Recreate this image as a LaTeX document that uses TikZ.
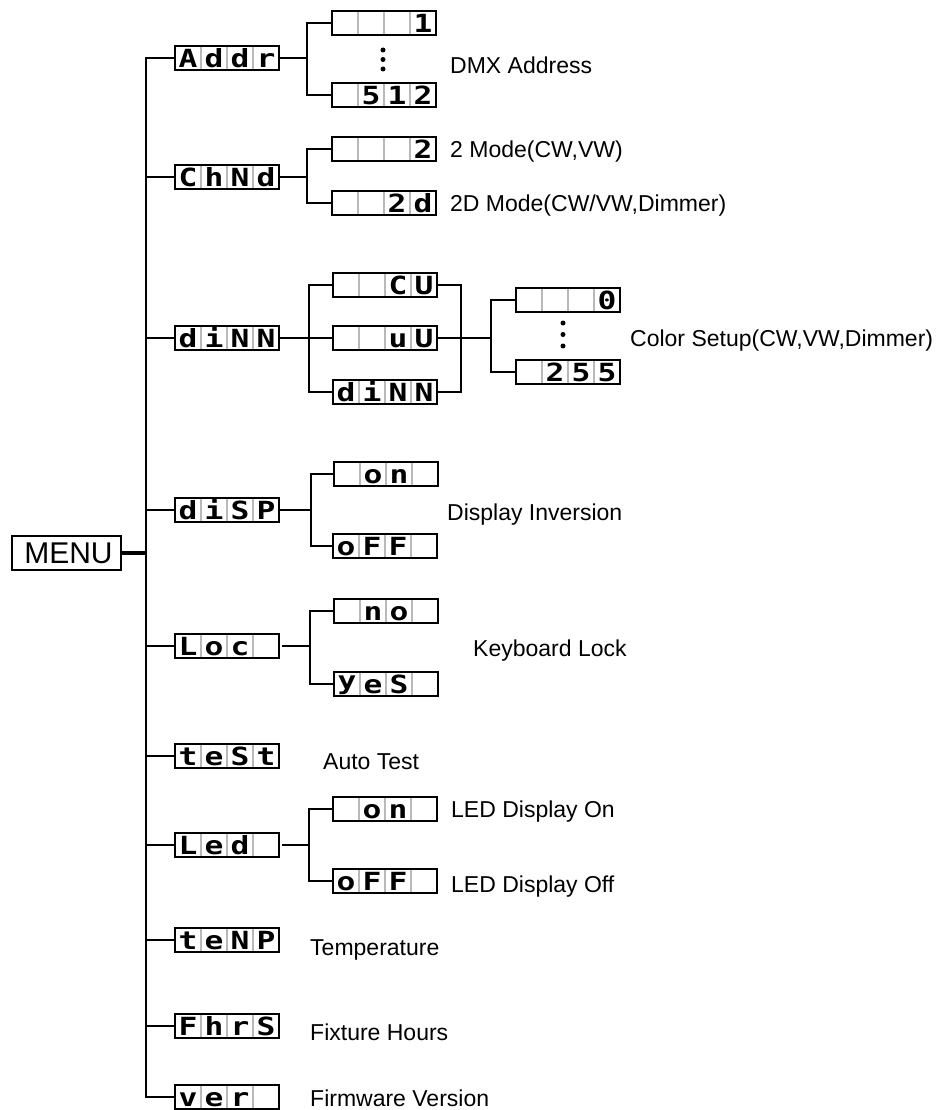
\documentclass[tikz,border=0pt]{standalone}
\usepackage{fontspec}
\setmainfont{Liberation Sans}
\newfontfamily\segfont{DejaVu Sans Mono}
\newcommand{\sg}[1]{\scalebox{1.25}[1]{#1}}
\newcommand{\segbox}[7]{%
  \node[dispbox] (#1) at (#2,#3) {};
  \foreach \k in {1,2,3}{\draw[divider] ([xshift=\k*26pt,yshift=-1pt]#1.north west) -- ([xshift=\k*26pt,yshift=1pt]#1.south west);}
  \node[dchar] (#1-a) at ([xshift=13pt]#1.west) {\sg{#4}};
  \node[dchar] (#1-b) at ([xshift=39pt]#1.west) {\sg{#5}};
  \node[dchar] (#1-c) at ([xshift=65pt]#1.west) {\sg{#6}};
  \node[dchar] (#1-d) at ([xshift=91pt]#1.west) {\sg{#7}};
}
\begin{document}
\begin{tikzpicture}[x=1pt,y=-1pt,
  line/.style={line width=2pt, black},
  dispbox/.style={draw, line width=2pt, minimum width=104pt, minimum height=24pt, inner sep=0pt, outer sep=0pt, fill=white},
  divider/.style={draw=gray!55, line width=1.4pt},
  dchar/.style={font=\segfont\bfseries\fontsize{25}{25}\selectfont, inner sep=0pt, text height=18.2pt, text depth=0pt},
  lbl/.style={font=\fontsize{23}{23}\selectfont, anchor=base west, inner sep=0pt},
  menubox/.style={draw, line width=1.5pt, minimum width=109pt, minimum height=34pt, inner sep=0pt, outer sep=0pt, font=\fontsize{30}{30}\selectfont}]
\useasboundingbox (0,0) rectangle (946,1110);

\node[menubox] (menu) at (66.5,553) {\hspace{4pt}MENU};

% level 1
\segbox{addr}{227}{58}{A}{d}{d}{r}
\segbox{chnd}{227}{177}{C}{h}{N}{d}
\segbox{dinn}{227}{338}{d}{i}{N}{N}
\segbox{disp}{227}{510}{d}{i}{S}{P}
\segbox{loc}{227}{646}{L}{o}{c}{}
\segbox{test}{227}{756}{t}{e}{S}{t}
\segbox{led}{227}{845}{L}{e}{d}{}
\segbox{temp}{227}{940}{t}{e}{N}{P}
\segbox{fhrs}{227}{1026}{F}{h}{r}{S}
\segbox{ver}{227}{1097}{v}{e}{r}{}

% level 2
\segbox{a1}{384}{23}{}{}{}{1}
\segbox{a512}{384}{95}{}{5}{1}{2}
\segbox{c2}{384}{149}{}{}{}{2}
\segbox{c2d}{384}{203}{}{}{2}{d}
\segbox{dcw}{385}{285}{}{}{C}{U}
\segbox{dvw}{385}{338}{}{}{u}{U}
\segbox{ddim}{385}{392}{d}{i}{N}{N}
\segbox{v0}{568}{300}{}{}{}{0}
\segbox{v255}{568}{372}{}{2}{5}{5}
\segbox{don}{386}{474}{}{o}{n}{}
\segbox{doff}{385}{546}{o}{F}{F}{}
\segbox{lno}{386}{611}{}{n}{o}{}
\segbox{lyes}{386}{684}{\raisebox{4pt}{y}}{e}{S}{}
\segbox{eon}{385}{809}{}{o}{n}{}
\segbox{eoff}{385}{881}{o}{F}{F}{}

% trunk
\coordinate (tk) at (146,553);
\draw[line] (addr.west) -| (tk) |- (ver.west);
\foreach \n in {chnd,dinn,disp,loc,test,led,temp,fhrs}{\draw[line] (\n.west) -- (\n.west -| tk);}
\draw[line width=3.5pt] (menu.east) -- (menu.east -| tk);

% Addr
\coordinate (ja) at (307,58);
\draw[line] (addr.east) -- (ja);
\draw[line] (a1.west) -| (ja) |- (a512.west);
% ChNd
\coordinate (jc) at (307,177);
\draw[line] (chnd.east) -- (jc);
\draw[line] (c2.west) -| (jc) |- (c2d.west);
% dinn
\coordinate (jd) at (309,338);
\draw[line] (dinn.east) -- (jd);
\draw[line] (dcw.west) -| (jd) |- (ddim.west);
\draw[line] (dvw.west) -- (dvw.west -| jd);
\coordinate (jr) at (461,338);
\draw[line] (dcw.east) -| (jr) |- (ddim.east);
\draw[line] (dvw.east) -- (jr);
\coordinate (jv) at (491,338);
\draw[line] (jr) -- (jv);
\draw[line] (v0.west) -| (jv) |- (v255.west);
% dISP
\coordinate (jp) at (311,510);
\draw[line] (disp.east) -- (jp);
\draw[line] (don.west) -| (jp) |- (doff.west);
% Loc
\coordinate (jl) at (310,646);
\draw[line, shorten <=3pt] (loc.east) -- (jl);
\draw[line] (lno.west) -| (jl) |- (lyes.west);
% LEd
\coordinate (je) at (309,845);
\draw[line, shorten <=3pt] (led.east) -- (je);
\draw[line] (eon.west) -| (je) |- (eoff.west);

% dots
\foreach \yy in {50,59.5,69}{\fill (383,\yy) circle (2.5pt);}
\foreach \yy in {323,334.5,346}{\fill (563,\yy) circle (2.5pt);}

% labels
\node[lbl] (t1) at (450,73.5) {DMX Address};
\node[lbl] (t2) at (450,157.5) {2 Mode(CW,VW)};
\node[lbl] (t3) at (450,211.5) {2D Mode(CW/VW,Dimmer)};
\node[lbl] (t4) at (630,346.5) {Color Setup(CW,VW,Dimmer)};
\node[lbl] (t5) at (447,520.5) {Display Inversion};
\node[lbl] (t6) at (473,656.5) {Keyboard Lock};
\node[lbl] (t7) at (323,769.5) {Auto Test};
\node[lbl] (t8) at (451,817.5) {LED Display On};
\node[lbl] (t9) at (451,892.5) {LED Display Off};
\node[lbl] (t10) at (310,955.5) {Temperature};
\node[lbl] (t11) at (310,1040.5) {Fixture Hours};
\node[lbl] (t12) at (310,1106.5) {Firmware Version};
\end{tikzpicture}
\end{document}
